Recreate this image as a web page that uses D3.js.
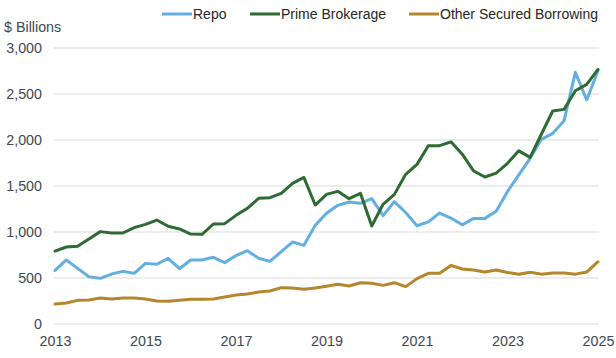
<!DOCTYPE html>
<html><head><meta charset="utf-8">
<script src="https://cdn.jsdelivr.net/npm/d3@7"></script>
<style>
html,body{margin:0;padding:0;background:#fff;}
svg{display:block;font-family:"Liberation Sans",Arial,sans-serif;}
</style></head>
<body><svg id="c" width="616" height="358"></svg>
<script>
const quarters = [
 "2013Q1","2013Q2","2013Q3","2013Q4","2014Q1","2014Q2","2014Q3","2014Q4",
 "2015Q1","2015Q2","2015Q3","2015Q4","2016Q1","2016Q2","2016Q3","2016Q4",
 "2017Q1","2017Q2","2017Q3","2017Q4","2018Q1","2018Q2","2018Q3","2018Q4",
 "2019Q1","2019Q2","2019Q3","2019Q4","2020Q1","2020Q2","2020Q3","2020Q4",
 "2021Q1","2021Q2","2021Q3","2021Q4","2022Q1","2022Q2","2022Q3","2022Q4",
 "2023Q1","2023Q2","2023Q3","2023Q4","2024Q1","2024Q2","2024Q3","2024Q4",
 "2025Q1"];
const repo = [583,696,605,514,496,543,572,551,659,649,714,601,696,696,725,667,
 743,797,714,681,786,891,855,1072,1203,1290,1326,1312,1362,1178,1330,1212,
 1068,1110,1206,1152,1078,1148,1148,1225,1440,1620,1801,2007,2072,2210,2735,2435,2753];
const primeBrokerage = [793,837,844,924,1004,989,989,1047,1083,1130,1062,1033,978,975,1087,1091,
 1181,1257,1366,1373,1420,1529,1594,1293,1409,1442,1362,1420,1065,1301,1409,1627,
 1735,1938,1938,1980,1846,1665,1598,1640,1746,1882,1811,2065,2315,2333,2536,2605,2768];
const otherSecured = [217,228,257,261,283,272,283,283,272,250,246,257,268,268,272,293,
 315,326,348,359,395,391,377,391,410,431,413,449,442,420,449,406,
 493,551,551,637,598,587,565,587,560,540,562,542,555,555,542,565,677];
const yTicks = [0,500,1000,1500,2000,2500,3000];
const xTickQuarters = ["2013Q1","2015Q1","2017Q1","2019Q1","2021Q1","2023Q1","2025Q1"];
const xTickLabels = ["2013","2015","2017","2019","2021","2023","2025"];
const seriesNames = ["Repo","Prime Brokerage","Other Secured Borrowing"];
const seriesColors = ["#62afe1","#2e6b33","#b5862c"];

const svg = d3.select("#c");
const textColor = "#3f4852";
const x = d3.scalePoint().domain(quarters).range([55, 598]);
const y = d3.scaleLinear().domain([0, 3000]).range([324, 48]);

// gridlines
svg.append("g").selectAll("line").data(yTicks).join("line")
  .attr("x1", 54).attr("x2", 599)
  .attr("y1", d => y(d)).attr("y2", d => y(d))
  .attr("stroke", "#d9d9d9").attr("stroke-width", 1.2);

// y axis labels
const yAxis = d3.axisLeft(y).tickValues(yTicks).tickFormat(d3.format(",")).tickSize(0).tickPadding(0);
const gy = svg.append("g").attr("transform", "translate(42,0)").call(yAxis);
gy.select(".domain").remove();
gy.selectAll("text").attr("fill", textColor).attr("font-size", 14.3)
  .attr("font-family", "Liberation Sans, Arial, sans-serif");

// x axis labels
const xAxis = d3.axisBottom(x).tickValues(xTickQuarters)
  .tickFormat(q => xTickLabels[xTickQuarters.indexOf(q)]).tickSize(0).tickPadding(0);
const gx = svg.append("g").attr("transform", "translate(0,335.5)").call(xAxis);
gx.select(".domain").remove();
gx.selectAll("text").attr("fill", textColor).attr("font-size", 14.3)
  .attr("font-family", "Liberation Sans, Arial, sans-serif");

// $ Billions
svg.append("text").attr("x", 4).attr("y", 32).attr("fill", textColor)
  .attr("font-size", 14.3).text("$ Billions");

// lines
const allSeries = [repo, primeBrokerage, otherSecured];
const line = d3.line().x((d, i) => x(quarters[i])).y(d => y(d));
[2, 0, 1].forEach(k => {
  svg.append("path").datum(allSeries[k]).attr("d", line)
    .attr("fill", "none").attr("stroke", seriesColors[k])
    .attr("stroke-width", 3).attr("stroke-linejoin", "round").attr("stroke-linecap", "round");
});

// legend
const legendX = [162, 250, 409];
const lg = svg.append("g");
seriesNames.forEach((n, k) => {
  lg.append("line").attr("x1", legendX[k]).attr("x2", legendX[k] + 30)
    .attr("y1", 14).attr("y2", 14).attr("stroke", seriesColors[k]).attr("stroke-width", 3);
  lg.append("text").attr("x", legendX[k] + 31).attr("y", 19).attr("fill", "#262626")
    .attr("font-size", 14).text(n);
});
</script></body></html>
